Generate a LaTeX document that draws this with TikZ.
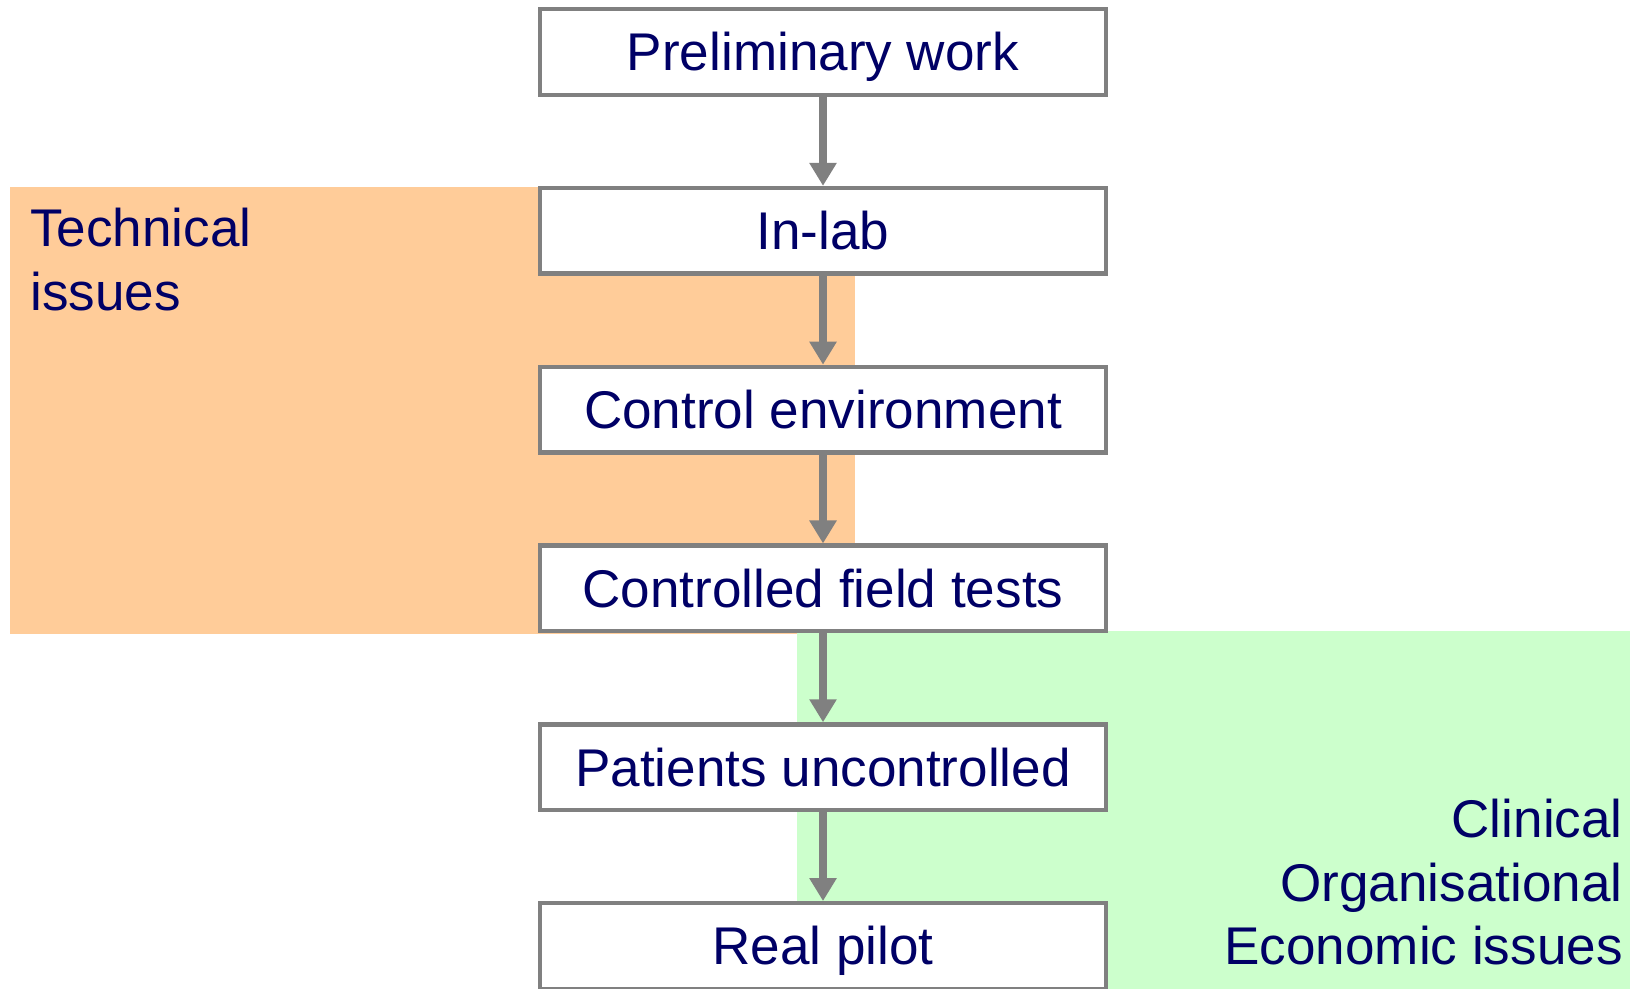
\documentclass[tikz,border=0pt]{standalone}
\usepackage{fontspec}
\setmainfont{Liberation Sans}
\usetikzlibrary{arrows.meta,positioning}

\definecolor{inkblue}{RGB}{0,0,102}
\definecolor{boxgray}{RGB}{128,128,128}
\definecolor{techfill}{RGB}{255,204,153}
\definecolor{clinfill}{RGB}{204,255,204}

\begin{document}
\begin{tikzpicture}[node distance=3.576cm,
    stage/.style={draw=boxgray, line width=2.5pt, fill=white, inner sep=0pt,
        minimum width=11.31cm, minimum height=1.71cm,
        text height=21.6pt, text depth=0pt,
        text=inkblue, font=\fontsize{30.2}{36}\selectfont},
    flow/.style={-{Triangle[width=0.52cm,length=0.46cm]}, draw=boxgray, line width=4pt},
    issue/.style={inner sep=0pt, text=inkblue, font=\fontsize{30.2}{36}\selectfont}]
    \useasboundingbox (0,0) rectangle (32.6,-19.78);

    % Areas {technical, clinical}
    \fill [techfill] (0.2,-3.74) rectangle (17.1,-12.68);
    \fill [clinfill] (15.94,-12.62) rectangle (32.6,-19.78);

    % Nodes {pre, lab, ctrl, field, pat, pilot}
    \node [stage]   (pre)   at (16.46,-1.04)    {Preliminary work};
    \node [stage]   (lab)   [below of=pre]      {In-lab};
    \node [stage]   (ctrl)  [below of=lab]      {Control environment};
    \node [stage]   (field) [below of=ctrl]     {Controlled field tests};
    \node [stage]   (pat)   [below of=field]    {Patients uncontrolled};
    \node [stage]   (pilot) [below of=pat]      {Real pilot};

    % Labels
    \node [issue, anchor=north west, align=left]  (tech) at (0.6,-4.16)    {Technical\\issues};
    \node [issue, anchor=north east, align=right] (clin) at (32.46,-15.98) {Clinical\\Organisational\\Economic issues};

    % Paths
    \draw [flow]    (pre)   --  (lab);
    \draw [flow]    (lab)   --  (ctrl);
    \draw [flow]    (ctrl)  --  (field);
    \draw [flow]    (field) --  (pat);
    \draw [flow]    (pat)   --  (pilot);
\end{tikzpicture}
\end{document}
